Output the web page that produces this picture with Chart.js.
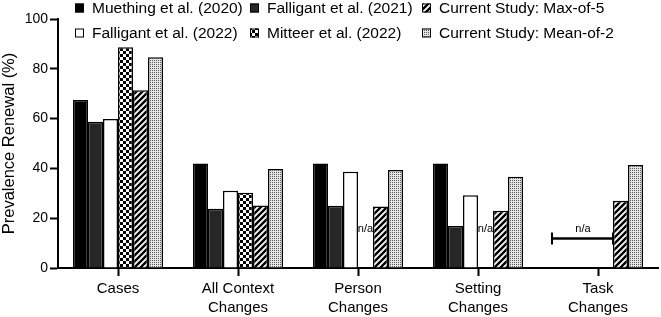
<!DOCTYPE html>
<html>
<head>
<meta charset="utf-8">
<script src="https://cdn.jsdelivr.net/npm/chart.js@4"></script>
<style>
html,body{margin:0;padding:0;background:#fff;}
#wrap{width:661px;height:317px;position:relative;}
</style>
</head>
<body>
<div id="wrap"><canvas id="c" width="661" height="317"></canvas></div>
<script>
// ---- data ----
const categories = ['Cases', ['All Context','Changes'], ['Person','Changes'], ['Setting','Changes'], ['Task','Changes']];
const seriesNames = ['Muething et al. (2020)', 'Falligant et al. (2021)', 'Falligant et al. (2022)', 'Mitteer et al. (2022)', 'Current Study: Max-of-5', 'Current Study: Mean-of-2'];
const muething2020   = [67.5, 42, 42, 42, null];
const falligant2021  = [58.7, 23.8, 25, 16.9, null];
const falligant2022  = [59.8, 31, 38.7, 29.2, null];
const mitteer2022    = [88.7, 30.2, null, null, null];
const maxOf5         = [71.4, 25.1, 24.7, 23, 27];
const meanOf2        = [84.6, 39.8, 39.4, 36.6, 41.4];
const yTicks = [0, 20, 40, 60, 80, 100];
const naLabel = 'n/a';
const naTextValue = 15.8;
const naBracketValue = 11.8;

// ---- patterns ----
function tile(w, h, draw) {
  const c = document.createElement('canvas'); c.width = w; c.height = h;
  const g = c.getContext('2d'); draw(g, w, h);
  return document.getElementById('c').getContext('2d').createPattern(c, 'repeat');
}
const checker = tile(6, 6, (g) => {
  g.fillStyle = '#fff'; g.fillRect(0, 0, 6, 6);
  g.fillStyle = '#000'; g.fillRect(0, 0, 3, 3); g.fillRect(3, 3, 3, 3);
});
const diag = tile(6, 6, (g) => {
  g.fillStyle = '#fff'; g.fillRect(0, 0, 6, 6);
  g.strokeStyle = '#000'; g.lineWidth = 2.4;
  g.beginPath();
  g.moveTo(-1, 7); g.lineTo(7, -1);
  g.moveTo(-4, 4); g.lineTo(4, -4);
  g.moveTo(2, 10); g.lineTo(10, 2);
  g.stroke();
});
const dots = tile(2, 2, (g) => {
  g.fillStyle = '#e6e6e6'; g.fillRect(0, 0, 2, 2);
  g.fillStyle = '#5a5a5a'; g.fillRect(0, 0, 1, 1);
});
const fills = ['#000000', '#262626', '#ffffff', checker, diag, dots];
const seriesData = [muething2020, falligant2021, falligant2022, mitteer2022, maxOf5, meanOf2];

const datasets = seriesData.map((d, i) => ({
  label: seriesNames[i],
  data: d,
  backgroundColor: fills[i],
  borderColor: '#000',
  borderWidth: 1.5,
  borderSkipped: 'bottom',
  categoryPercentage: 0.75,
  barPercentage: 1.0
}));

// legend layout: [datasetIndex, column x, row y]
const legendSlots = [[0, 75, 8], [1, 250, 8], [4, 422, 8], [2, 75, 33], [3, 250, 33], [5, 422, 33]];
const FONT = '"Liberation Sans", Arial, Helvetica, sans-serif';

const legendPlugin = {
  id: 'gridLegend',
  afterDraw(chart) {
    const ctx = chart.ctx;
    ctx.save();
    ctx.font = '15.5px ' + FONT;
    ctx.textBaseline = 'middle';
    ctx.fillStyle = '#000';
    legendSlots.forEach(([di, x, y]) => {
      const ds = chart.data.datasets[di];
      ctx.fillStyle = ds.backgroundColor;
      ctx.fillRect(x, y - 4.5, 9, 9);
      ctx.strokeStyle = '#000'; ctx.lineWidth = 1;
      ctx.strokeRect(x + 0.5, y - 4, 8, 8);
      ctx.fillStyle = '#000';
      ctx.fillText(ds.label, x + 17, y + 0.5);
    });
    ctx.restore();
  }
};

const naPlugin = {
  id: 'naMarks',
  afterDatasetsDraw(chart) {
    const ctx = chart.ctx;
    const y = chart.scales.y;
    const n = chart.data.labels.length;
    const metas = chart.data.datasets.map((_, i) => chart.getDatasetMeta(i));
    ctx.save();
    ctx.fillStyle = '#000';
    ctx.strokeStyle = '#000';
    ctx.font = '11px ' + FONT;
    ctx.textAlign = 'center';
    ctx.textBaseline = 'middle';
    for (let c = 0; c < n; c++) {
      let d = 0;
      while (d < metas.length) {
        if (chart.data.datasets[d].data[c] === null) {
          let e = d;
          while (e + 1 < metas.length && chart.data.datasets[e + 1].data[c] === null) e++;
          const a = metas[d].data[c], b = metas[e].data[c];
          const left = a.x - a.width / 2, right = b.x + b.width / 2;
          const ty = y.getPixelForValue(naTextValue);
          if (e === d) {
            ctx.fillText(naLabel, a.x, ty);
          } else {
            const by = y.getPixelForValue(naBracketValue);
            ctx.lineWidth = 2.5;
            ctx.beginPath();
            ctx.moveTo(left - 1, by); ctx.lineTo(right, by);
            ctx.stroke();
            ctx.lineWidth = 2;
            ctx.beginPath();
            ctx.moveTo(left - 1, by - 6); ctx.lineTo(left - 1, by + 6);
            ctx.moveTo(right, by - 6); ctx.lineTo(right, by + 6);
            ctx.stroke();
            ctx.fillText(naLabel, (left + right) / 2, ty);
          }
          d = e + 1;
        } else d++;
      }
    }
    ctx.restore();
  }
};

Chart.defaults.font.family = FONT;
Chart.defaults.color = '#000';

new Chart(document.getElementById('c'), {
  type: 'bar',
  data: { labels: categories, datasets },
  plugins: [legendPlugin, naPlugin],
  options: {
    responsive: false,
    animation: false,
    devicePixelRatio: 1,
    layout: { padding: { top: 19, right: 3, left: 0, bottom: 0 } },
    plugins: { legend: { display: false }, tooltip: { enabled: false } },
    scales: {
      x: {
        grid: { display: true, drawOnChartArea: false, drawTicks: true, offset: false, tickLength: 8, tickWidth: 2, tickColor: '#000', color: '#000' },
        border: { display: true, color: '#000', width: 2 },
        ticks: { font: { size: 15, lineHeight: 1.27 }, color: '#000', padding: 3, maxRotation: 0, autoSkip: false },
        afterFit(s) { s.height = 49; }
      },
      y: {
        min: 0, max: 100,
        afterBuildTicks(s) { s.ticks = yTicks.map(v => ({ value: v })); },
        grid: { display: true, drawOnChartArea: false, drawTicks: true, tickLength: 8, tickWidth: 2, tickColor: '#000', color: '#000' },
        border: { display: true, color: '#000', width: 2 },
        ticks: { font: { size: 14 }, color: '#000', padding: 2 },
        title: { display: true, text: 'Prevalence Renewal (%)', font: { size: 16.5 }, color: '#000', padding: { top: 0, bottom: 2 } },
        afterFit(s) { s.width = 58; }
      }
    }
  }
});
</script>
</body>
</html>
